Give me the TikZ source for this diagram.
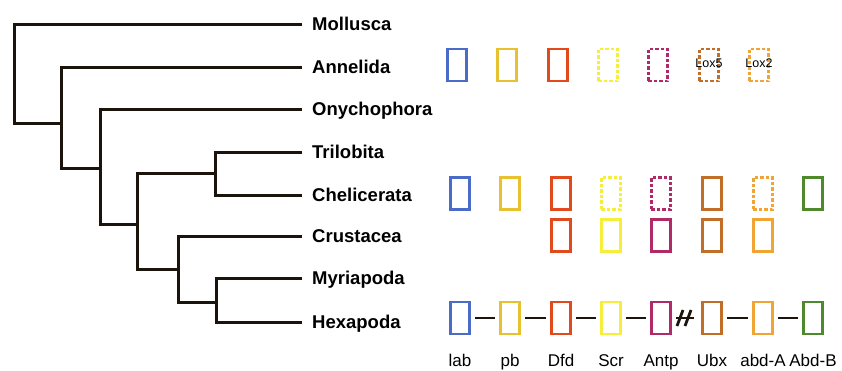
\documentclass[tikz,border=0pt]{standalone}
\usepackage{fontspec}
\setmainfont{Liberation Sans}
\definecolor{clab}{HTML}{4A6CC8}
\definecolor{cpb}{HTML}{E6C230}
\definecolor{cdfd}{HTML}{E04A1C}
\definecolor{cscr}{HTML}{F6EE3C}
\definecolor{cantp}{HTML}{B02A68}
\definecolor{cubx}{HTML}{C06E28}
\definecolor{cabda}{HTML}{F0A434}
\definecolor{cabdb}{HTML}{4E8A2C}
\definecolor{treec}{HTML}{1A140C}
\tikzset{
  tree/.style={draw=treec, line width=3pt, line join=miter},
  taxon/.style={anchor=base west, inner sep=0pt, font=\fontsize{18.5}{20}\selectfont\bfseries},
  hox/.style={draw, line width=2.8pt, minimum width=19.5pt, minimum height=32pt, inner sep=0pt, fill=white},
  dsh/.style={dash pattern=on 3.5pt off 2pt},
  link/.style={draw=treec, line width=2.6pt, shorten <=4pt, shorten >=4pt},
  gname/.style={anchor=base, inner sep=0pt, font=\fontsize{17}{19}\selectfont},
  lox/.style={inner sep=0pt, font=\fontsize{12.5}{13}\selectfont}
}
\begin{document}
\begin{tikzpicture}[x=1pt, y=-1pt]
\useasboundingbox (0,0) rectangle (842,370);
% leaf tips
\coordinate (tMol) at (302,24);
\coordinate (tAnn) at (302,67);
\coordinate (tOny) at (302,109);
\coordinate (tTri) at (302,152);
\coordinate (tChe) at (302,195);
\coordinate (tCru) at (302,236);
\coordinate (tMyr) at (302,278);
\coordinate (tHex) at (302,322);
% internal nodes
\coordinate (n1) at (61,123);
\coordinate (n2) at (100,168);
\coordinate (n3) at (137,224);
\coordinate (n4) at (215,173);
\coordinate (n5) at (178,269);
\coordinate (n6) at (216,302);
% tree
\draw[tree] (tMol) -- (14,24) -- (14,123) -- (n1);
\draw[tree] (tAnn) -- (61,67) -- (61,168) -- (n2);
\draw[tree] (tOny) -- (100,109) -- (100,224) -- (n3);
\draw[tree] (n4) -- (137,173) -- (137,269) -- (n5);
\draw[tree] (tTri) -- (215,152) -- (215,195) -- (tChe);
\draw[tree] (tCru) -- (178,236) -- (178,302) -- (n6);
\draw[tree] (tMyr) -- (216,278) -- (216,322) -- (tHex);
% taxon labels
\node[taxon] (lMol) at (312,30.5) {Mollusca};
\node[taxon] (lAnn) at (312,73.5) {Annelida};
\node[taxon] (lOny) at (312,115.5) {Onychophora};
\node[taxon] (lTri) at (312,158.5) {Trilobita};
\node[taxon] (lChe) at (312,201.5) {Chelicerata};
\node[taxon] (lCru) at (312,242.5) {Crustacea};
\node[taxon] (lMyr) at (312,284.5) {Myriapoda};
\node[taxon] (lHex) at (312,328.5) {Hexapoda};
% Annelida row
\node[hox, draw=clab] (a1) at (457,65) {};
\node[hox, draw=cpb] (a2) at (507,65) {};
\node[hox, draw=cdfd] (a3) at (558,65) {};
\node[hox, draw=cscr, dsh] (a4) at (608,65) {};
\node[hox, draw=cantp, dsh] (a5) at (658,65) {};
\node[hox, draw=cubx, dsh] (a6) at (709,65) {};
\node[hox, draw=cabda, dsh] (a7) at (759,65) {};
\node[lox] (x5) at (709,63) {Lox5};
\node[lox] (x2) at (759,63) {Lox2};
% Chelicerata row
\node[hox, draw=clab] (c1) at (460,193.5) {};
\node[hox, draw=cpb] (c2) at (510,193.5) {};
\node[hox, draw=cdfd] (c3) at (561,193.5) {};
\node[hox, draw=cscr, dsh] (c4) at (611,193.5) {};
\node[hox, draw=cantp, dsh] (c5) at (661,193.5) {};
\node[hox, draw=cubx] (c6) at (712,193.5) {};
\node[hox, draw=cabda, dsh] (c7) at (763,193.5) {};
\node[hox, draw=cabdb] (c8) at (813,193.5) {};
% Crustacea row
\node[hox, draw=cdfd] (k3) at (561,235.5) {};
\node[hox, draw=cscr] (k4) at (611,235.5) {};
\node[hox, draw=cantp] (k5) at (661,235.5) {};
\node[hox, draw=cubx] (k6) at (712,235.5) {};
\node[hox, draw=cabda] (k7) at (763,235.5) {};
% Hexapoda row
\node[hox, draw=clab] (h1) at (460,318) {};
\node[hox, draw=cpb] (h2) at (510,318) {};
\node[hox, draw=cdfd] (h3) at (561,318) {};
\node[hox, draw=cscr] (h4) at (611,318) {};
\node[hox, draw=cantp] (h5) at (661,318) {};
\node[hox, draw=cubx] (h6) at (712,318) {};
\node[hox, draw=cabda] (h7) at (763,318) {};
\node[hox, draw=cabdb] (h8) at (813,318) {};
\draw[link] (h1) -- (h2);
\draw[link] (h2) -- (h3);
\draw[link] (h3) -- (h4);
\draw[link] (h4) -- (h5);
\draw[link] (h6) -- (h7);
\draw[link] (h7) -- (h8);
% break mark
\coordinate (brk) at (694,318);
\draw[link, shorten >=0pt] (h5) -- (brk);
\draw[draw=treec, line width=2.8pt] (677,326) -- (683,310);
\draw[draw=treec, line width=2.8pt] (685,326) -- (691,310);
% gene names
\node[gname] (g1) at (460,366) {lab};
\node[gname] (g2) at (510,366) {pb};
\node[gname] (g3) at (561,366) {Dfd};
\node[gname] (g4) at (611,366) {Scr};
\node[gname] (g5) at (661,366) {Antp};
\node[gname] (g6) at (712,366) {Ubx};
\node[gname] (g7) at (763,366) {abd-A};
\node[gname] (g8) at (813,366) {Abd-B};
\end{tikzpicture}
\end{document}
